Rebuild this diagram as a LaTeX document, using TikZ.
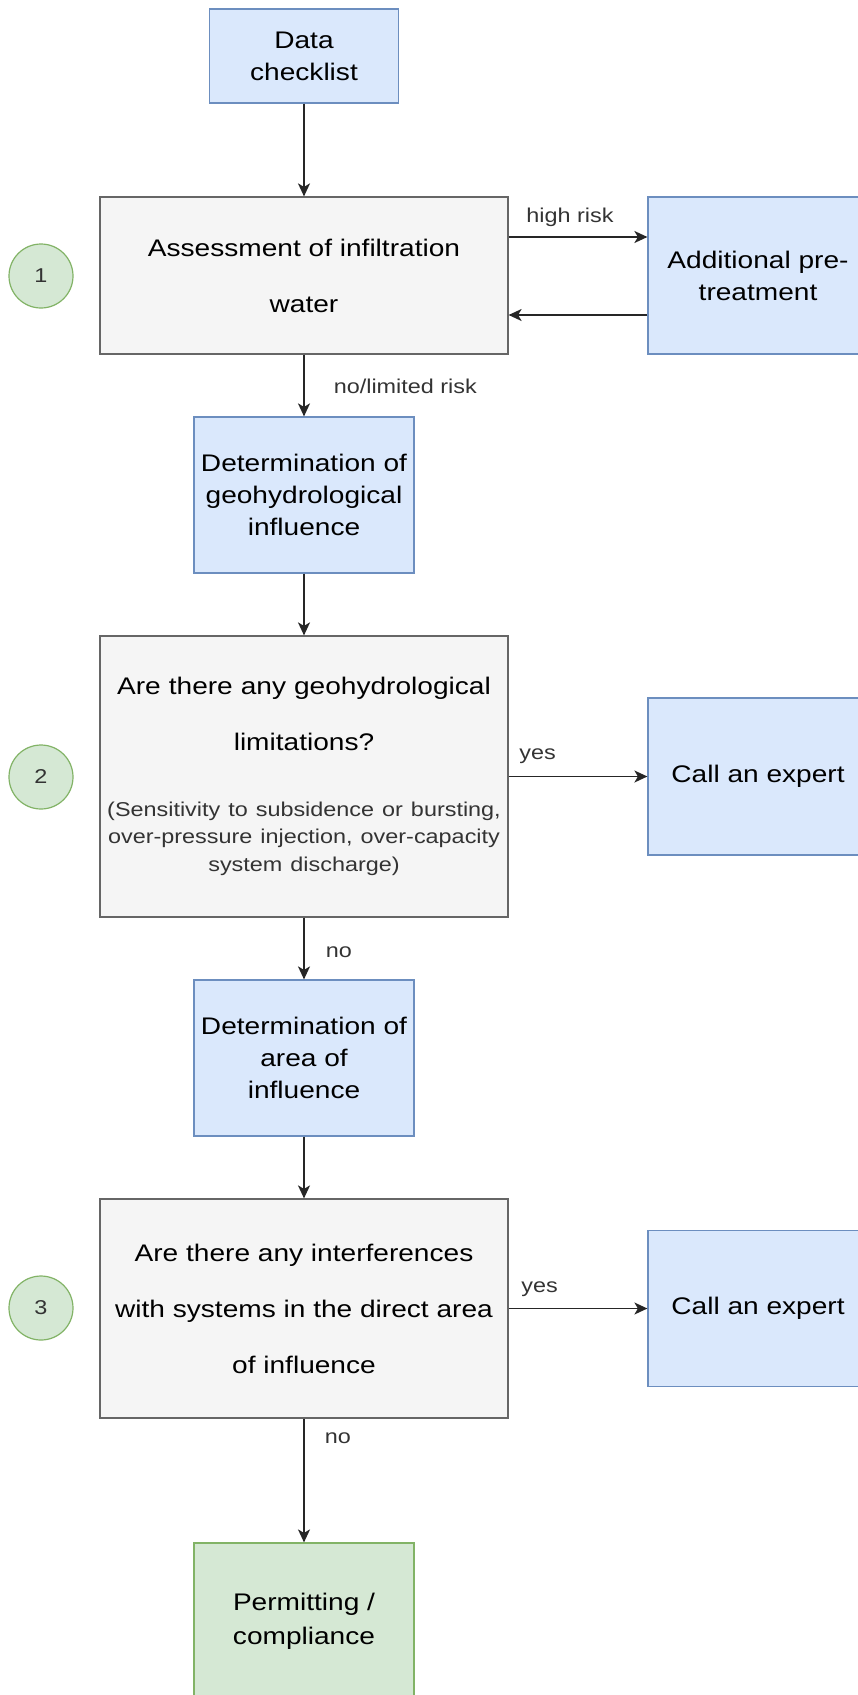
\documentclass[tikz,border=0pt]{standalone}
\usepackage{xcolor}
\usepackage{fontspec}
\setmainfont{Liberation Sans}[FakeStretch=1.17]
\usetikzlibrary{arrows.meta}
\definecolor{BLf}{HTML}{DAE8FC}
\definecolor{BLd}{HTML}{6C8EBF}
\definecolor{GYf}{HTML}{F5F5F5}
\definecolor{GYd}{HTML}{666666}
\definecolor{GNf}{HTML}{D5E8D4}
\definecolor{GNd}{HTML}{82B366}
\definecolor{TX}{HTML}{333333}
\tikzset{
    RB/.style ={rectangle,minimum width = 220pt, minimum height =156pt, draw=BLd, fill=BLf, line width=1.2pt, align=center, font=\fontsize{24}{32}\selectfont},
    RG/.style ={rectangle,minimum width = 408pt, draw=GYd, fill=GYf, line width=1.2pt, align=center, font=\fontsize{24}{56}\selectfont},
    RN/.style ={rectangle,minimum width = 220pt, minimum height =156pt, draw=GNd, fill=GNf, line width=1.2pt, align=center, font=\fontsize{24}{34}\selectfont},
    CC/.style ={circle,minimum size = 64pt, draw=GNd, fill=GNf, line width=1.2pt, text=TX, font=\fontsize{20}{24}\selectfont},
    LB/.style ={text=TX, inner sep=0pt, anchor=base west, font=\fontsize{20}{24}\selectfont}
}
\begin{document}
\begin{tikzpicture}[x=1pt,y=-1pt,
        AR/.style={-{Stealth[length=13pt,width=12pt,inset=3.5pt]},line width=1.6pt,draw=black!85}]
        \useasboundingbox (0,0) rectangle (858,1695);
        \clip (0,0) rectangle (858,1695);
        \node[RB, minimum width=189pt, minimum height=94pt](dc) at (304,56) {Data\\checklist};
        \node[RG, minimum height=157pt](q1) at (304,275.5) {Assessment of infiltration\\water};
        \node[RB, minimum height=157pt](pt) at (758,275.5) {Additional pre-\\treatment};
        \node[RB](g1) at (304,495) {Determination of\\geohydrological\\influence};
        \node[RG, minimum height=281pt, text width=408pt, inner xsep=0pt](q2) at (304,776.5) {Are there any geohydrological\\limitations?\par\vspace{38pt}{\fontsize{20}{27.5}\selectfont\color{TX}(Sensitivity to subsidence or bursting,\\over-pressure injection, over-capacity\\system discharge)\par}};
        \node[RB, minimum height=157pt](ex1) at (758,776.5) {Call an expert};
        \node[RB](g2) at (304,1058) {Determination of\\area of\\influence};
        \node[RG, minimum height=219pt](q3) at (304,1308.5) {Are there any interferences\\with systems in the direct area\\of influence};
        \node[RB](ex2) at (758,1308.5) {Call an expert};
        \node[RN](pc) at (304,1621) {Permitting /\\compliance};
        \node[CC](c1) at (41,276) {1};
        \node[CC](c2) at (41,777) {2};
        \node[CC](c3) at (41,1308) {3};
        \draw (dc) edge[AR] (q1);
        \draw[AR] ([yshift=38.5pt]q1.east) node[LB, xshift=17pt, yshift=15pt]{high risk} -- ([yshift=38.5pt]pt.west);
        \draw[AR] ([yshift=-39.5pt]pt.west) -- ([yshift=-39.5pt]q1.east);
        \draw[AR] (q1.south) node[LB, xshift=29pt, yshift=-39pt]{no/limited risk} -- (g1.north);
        \draw (g1) edge[AR] (q2);
        \draw[AR] (q2.east) node[LB, xshift=10pt, yshift=17pt]{yes} -- (ex1.west);
        \draw[AR] (q2.south) node[LB, xshift=21pt, yshift=-40pt]{no} -- (g2.north);
        \draw (g2) edge[AR] (q3);
        \draw[AR] (q3.east) node[LB, xshift=12pt, yshift=16pt]{yes} -- (ex2.west);
        \draw[AR] (q3.south) node[LB, xshift=20pt, yshift=-25pt]{no} -- (pc.north);
    \end{tikzpicture}
\end{document}
